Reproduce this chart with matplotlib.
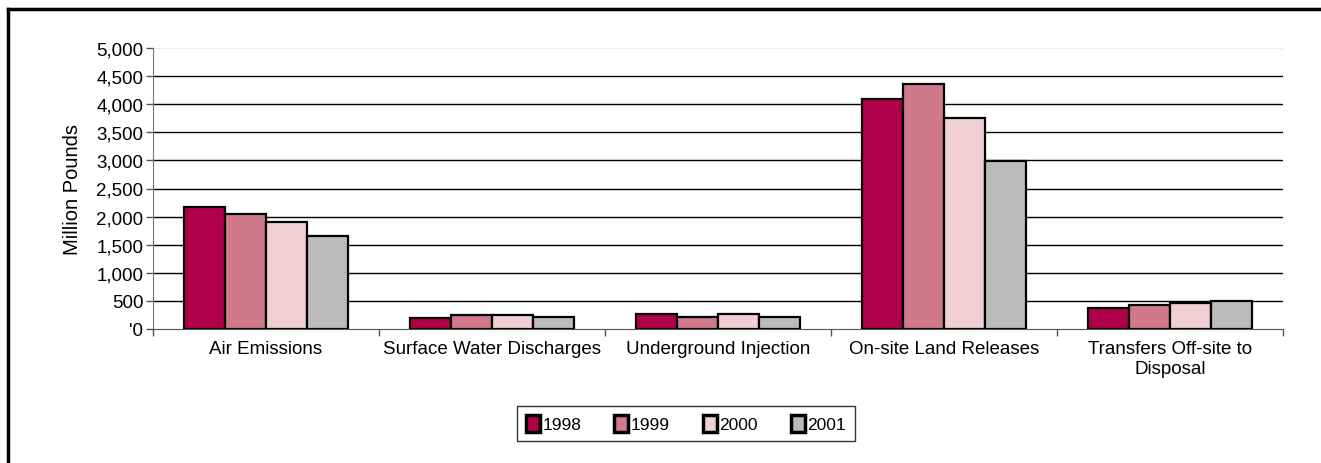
import matplotlib
matplotlib.use("Agg")
import matplotlib.pyplot as plt
from matplotlib.lines import Line2D
import numpy as np

plt.rcParams['font.family'] = ['Liberation Sans', 'DejaVu Sans']

categories = ["Air Emissions", "Surface Water Discharges", "Underground Injection",
              "On-site Land Releases", "Transfers Off-site to\nDisposal"]
years = ["1998", "1999", "2000", "2001"]
v1998 = [2170, 190, 265, 4100, 375]
v1999 = [2040, 245, 205, 4360, 420]
v2000 = [1910, 255, 275, 3750, 455]
v2001 = [1660, 210, 205, 2990, 500]
series = [v1998, v1999, v2000, v2001]
colors = ["#B0004A", "#D0788C", "#EFCFD4", "#BBBBBB"]
yticks = list(range(0, 5001, 500))
ytick_labels = ["'0"] + [f"{t:,}" for t in yticks[1:]]

fig = plt.figure(figsize=(13.21, 4.64), dpi=100)
ax = fig.add_axes([153 / 1321, 1 - 330 / 464, (1283 - 153) / 1321, (330 - 49) / 464])

x = np.arange(len(categories))
w = 0.181
for i, (vals, c, yr) in enumerate(zip(series, colors, years)):
    ax.bar(x + (i - 1.5) * w, vals, width=w, color=c, edgecolor="black",
           linewidth=1.6, label=yr, zorder=3)

ax.set_xlim(-0.5, len(categories) - 0.5)
ax.set_ylim(0, 5000)
ax.set_yticks(yticks)
ax.set_yticklabels(ytick_labels, fontsize=13.5)
for t in yticks[1:-1]:
    ax.axhline(t, color="black", linewidth=1, zorder=1)
ax.axhline(5000, color="#eeeeee", linewidth=1, zorder=1)

# category labels between boundary ticks
ax.set_xticks(np.arange(-0.5, len(categories), 1.0))
ax.set_xticklabels([])
ax.set_xticks(x, minor=True)
ax.set_xticklabels(categories, minor=True, fontsize=13.5)
ax.tick_params(axis="x", which="minor", length=0, pad=8)
ax.tick_params(axis="x", which="major", length=5, color="#555555", width=1, direction="out")
ax.tick_params(axis="y", length=5, color="#555555", width=1, pad=2)

for s in ["top", "right"]:
    ax.spines[s].set_visible(False)
ax.spines["left"].set_color("#777777")
ax.spines["bottom"].set_color("#555555")
ax.set_ylabel("Million Pounds", fontsize=14.5, labelpad=10)

leg = fig.legend(loc="center", bbox_to_anchor=(686 / 1321, 1 - 424.5 / 464), ncol=4,
                 fontsize=12.5, frameon=True, fancybox=False, edgecolor="black",
                 handlelength=0.8, handleheight=1.2, handletextpad=0.15,
                 columnspacing=1.9, borderpad=0.5, borderaxespad=0)
leg.get_frame().set_linewidth(1.0)
for h in leg.legend_handles:
    h.set_linewidth(2.5)

# outer frame: only left and top edges fall inside the picture
fig.add_artist(Line2D([8 / 1321, 8 / 1321], [0, 1 - 10 / 464], transform=fig.transFigure,
                      color="black", linewidth=2.5, solid_capstyle="projecting"))
fig.add_artist(Line2D([8 / 1321, 1], [1 - 10 / 464, 1 - 10 / 464], transform=fig.transFigure,
                      color="black", linewidth=2.5, solid_capstyle="projecting"))

fig.savefig("out.png", dpi=100)
